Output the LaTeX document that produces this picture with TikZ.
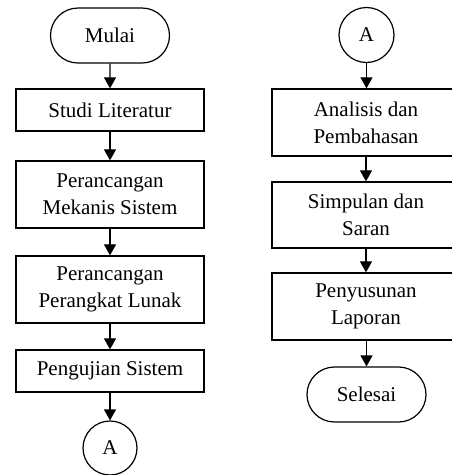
\documentclass[tikz,border=0pt]{standalone}
\usepackage{fontspec}
\setmainfont{Liberation Serif}
\usetikzlibrary{arrows.meta,shapes.misc}
\begin{document}
\begin{tikzpicture}[x=1pt,y=-1pt,
  every node/.style={font=\fontsize{21}{27}\selectfont, align=center, inner sep=0pt},
  procbox/.style={draw, line width=1.3pt, minimum width=188pt},
  terminal/.style={draw, line width=1.2pt, rounded rectangle, minimum width=119pt, minimum height=55pt},
  connector/.style={draw, line width=1.2pt, circle, minimum size=55pt},
  flow/.style={line width=1.2pt, -{Triangle[length=11pt,width=12pt]}}
]
\useasboundingbox (0,0) rectangle (452,475);
\clip (0,0) rectangle (452,475);
% left column
\node[terminal] (mulai) at (110,35.5) {Mulai};
\node[procbox, minimum height=42pt] (studi) at (110,110) {Studi Literatur};
\node[procbox, minimum height=67pt] (mekanis) at (110,194.5) {Perancangan\\Mekanis Sistem};
\node[procbox, minimum height=67pt] (lunak) at (110,289.5) {Perancangan\\Perangkat Lunak};
\node[procbox, minimum height=42pt] (uji) at (110,371) {Pengujian Sistem};
\node[connector, minimum size=54pt] (a1) at (110,448) {A};
% right column
\node[connector] (a2) at (366.5,35) {A};
\node[procbox, minimum height=67pt] (analisis) at (366,122.5) {Analisis dan\\Pembahasan};
\node[procbox, minimum height=66pt] (simpulan) at (366,215) {Simpulan dan\\Saran};
\node[procbox, minimum height=67pt] (laporan) at (366,306.5) {Penyusunan\\Laporan};
\node[terminal] (selesai) at (366.5,394.5) {Selesai};
% connectors
\draw[flow] (mulai) -- (studi);
\draw[flow] (studi) -- (mekanis);
\draw[flow] (mekanis) -- (lunak);
\draw[flow] (lunak) -- (uji);
\draw[flow] (uji) -- (a1);
\draw[flow] (a2.south) -- (a2.south |- analisis.north);
\draw[flow] (analisis) -- (simpulan);
\draw[flow] (simpulan) -- (laporan);
\draw[flow] (laporan.south -| selesai.north) -- (selesai.north);
\end{tikzpicture}
\end{document}
